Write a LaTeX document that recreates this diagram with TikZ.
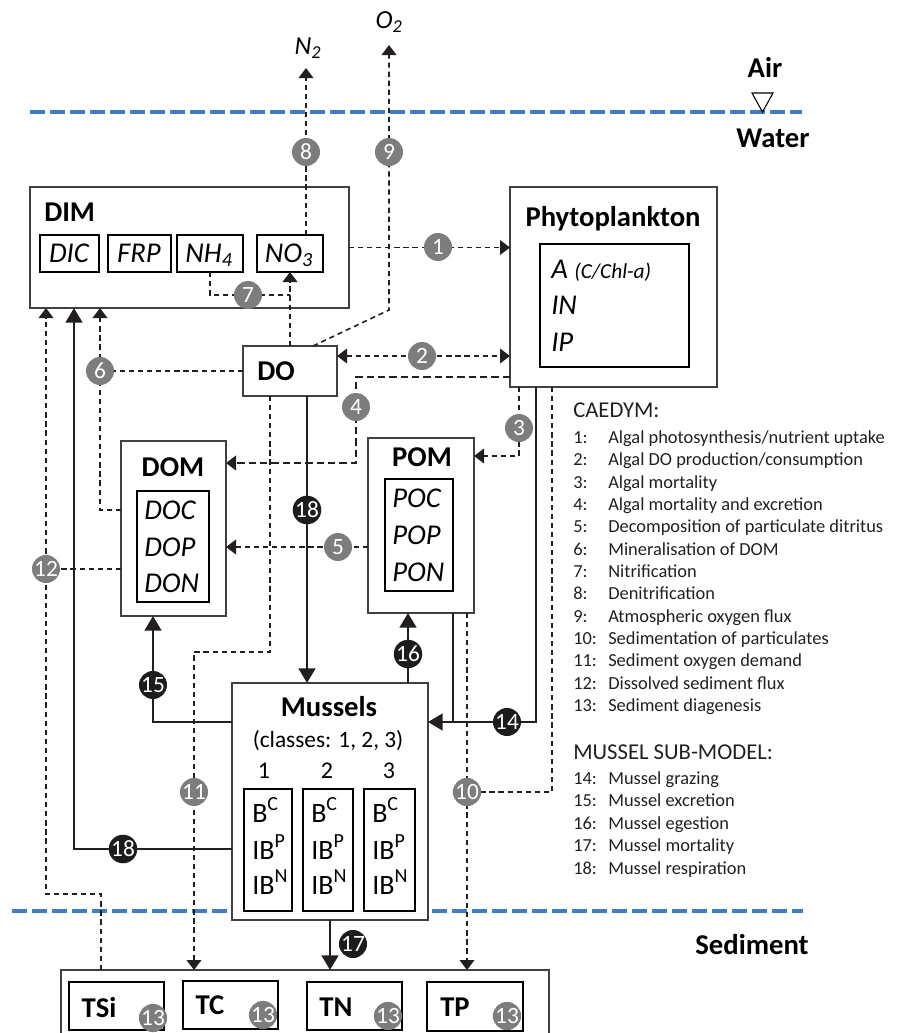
\documentclass[tikz,border=0pt]{standalone}
\usepackage{fontspec}
\setmainfont{Carlito}
\usetikzlibrary{arrows.meta}
\newdimen\pxu \pxu=0.75pt
\definecolor{wline}{RGB}{62,124,196}
\definecolor{gcirc}{RGB}{125,125,125}
\definecolor{bcirc}{RGB}{28,28,28}
\definecolor{lcol}{RGB}{35,31,32}
\definecolor{bcol}{RGB}{64,64,64}
\newcommand\fszLab{\fontsize{21.5}{24}\selectfont}
\newcommand\fszIt{\fontsize{21.5}{24}\selectfont\itshape}
\newcommand\fszSm{\fontsize{16}{18}\selectfont\itshape}
\newcommand\fszLeg{\fontsize{13.8}{16}\selectfont}
\newcommand\fszHead{\fontsize{17}{20}\selectfont}
\newcommand\fszNum{\fontsize{17.5}{17.5}\selectfont}
\newcommand\fszCls{\fontsize{17.5}{20}\selectfont}
\newcommand\fszB{\fontsize{21}{24}\selectfont}
\newcommand\supx[1]{\raisebox{0.42em}{\fontsize{15}{15}\selectfont #1}}
\newcommand\mkbox[6]{\node[#1, anchor=north west, minimum width={(#5-#3)*\pxu}, minimum height={(#6-#4)*\pxu}] (#2) at (#3,#4) {};}
\tikzset{
  box/.style={draw=bcol, line width=1.1pt, fill=white, inner sep=0pt, outer sep=0pt},
  ibox/.style={draw=black, line width=1.1pt, inner sep=0pt, outer sep=0pt},
  gc/.style={circle, fill=gcirc, text=white, minimum size=28\pxu, inner sep=0pt, font=\fszNum},
  bc/.style={gc, fill=bcirc},
  dl/.style={line width=1.2pt, dash pattern=on 3.9pt off 2.9pt, lcol},
  dlong/.style={line width=1.2pt, dash pattern=on 5.5pt off 3pt, lcol},
  sl/.style={line width=2pt, lcol},
  da/.style={-{Triangle[length=7.5pt,width=11pt]}},
  dda/.style={{Triangle[length=7.5pt,width=11pt]}-{Triangle[length=7.5pt,width=11pt]}},
  sa/.style={-{Triangle[length=11pt,width=12.5pt]}},
  waterline/.style={wline, line width=3pt, dash pattern=on 10.9pt off 4.1pt},
  lab/.style={font=\fszLab\bfseries, inner sep=0pt, anchor=base},
  itx/.style={font=\fszIt, inner sep=0pt, anchor=base},
  leg/.style={font=\fszLeg, inner sep=0pt, anchor=base west, text=lcol},
  head/.style={font=\fszHead, inner sep=0pt, anchor=base west, text=lcol},
}
\begin{document}
\begin{tikzpicture}[x=0.75pt,y=-0.75pt]
\useasboundingbox (0,0) rectangle (900,1033);

% water / sediment interfaces
\draw[waterline] (30,112) -- (802,112);
\draw[waterline] (12,911) -- (803,911);
\draw[line width=0.8pt, fill=white] (752,93) -- (773,93) -- (762.5,112) -- cycle;
\node[lab] (air) at (765,77) {Air};
\node[lab] (water) at (773,147) {Water};
\node[lab] (sedlab) at (752,954) {Sediment};
\node[itx, font=\fontsize{19.5}{22}\selectfont\itshape] (n2) at (308,54) {N\textsubscript{2}};
\node[itx, font=\fontsize{19.5}{22}\selectfont\itshape] (o2) at (389,28) {O\textsubscript{2}};

% boxes
\mkbox{box}{dim}{30}{187}{349}{308}
\mkbox{ibox}{dic}{40}{235}{99}{272}
\mkbox{ibox}{frp}{108}{235}{171}{272}
\mkbox{ibox}{nh4}{177}{235}{243}{272}
\mkbox{ibox}{no3}{257}{235}{323}{272}
\mkbox{box}{phy}{510}{187}{717}{387}
\mkbox{ibox}{phyin}{540}{244}{689}{367}
\mkbox{box}{do}{243}{346}{337}{396}
\mkbox{box}{dom}{121}{441}{226}{616}
\mkbox{ibox}{domin}{137}{491}{209}{602}
\mkbox{box}{pom}{368}{438}{474}{613}
\mkbox{ibox}{pomin}{385}{479}{453}{591}
\mkbox{box}{mus}{232}{683}{428}{920}
\mkbox{ibox}{m1}{244}{789}{292}{911}
\mkbox{ibox}{m2}{303}{789}{353}{911}
\mkbox{ibox}{m3}{364}{789}{415}{911}
\mkbox{box}{sed}{61}{970}{549}{1045}
\mkbox{ibox}{tsi}{69}{982}{164}{1030}
\mkbox{ibox}{tc}{183}{981}{278}{1029}
\mkbox{ibox}{tn}{307}{982}{402}{1030}
\mkbox{ibox}{tp}{427}{982}{523}{1031}

% box texts
\node[lab, anchor=base west] (dimt) at (44,221) {DIM};
\node[itx] (dict) at (69,262) {DIC};
\node[itx] (frpt) at (139,262) {FRP};
\node[itx] (nh4t) at (209,262) {NH\textsubscript{4}};
\node[itx] (no3t) at (289,262) {NO\textsubscript{3}};
\node[lab] (phyt) at (613,226) {Phytoplankton};
\node[itx, anchor=base west] (pa) at (551,278) {A {\fszSm(C/Chl-a)}};
\node[itx, anchor=base west] (pin) at (551,314) {IN};
\node[itx, anchor=base west] (pip) at (551,351) {IP};
\node[lab] (dot) at (276,380) {DO};
\node[lab] (domt) at (173,476) {DOM};
\node[itx, anchor=base west] (doc) at (144,519) {DOC};
\node[itx, anchor=base west] (dop) at (144,556) {DOP};
\node[itx, anchor=base west] (don) at (144,592) {DON};
\node[lab] (pomt) at (422,466) {POM};
\node[itx, anchor=base west] (poc) at (392,507) {POC};
\node[itx, anchor=base west] (pop) at (392,544) {POP};
\node[itx, anchor=base west] (pon) at (392,581) {PON};
\node[lab] (must) at (329,716) {Mussels};
\node[font=\fszCls, inner sep=0pt, anchor=base] (cls) at (328,747) {(classes: 1, 2, 3)};
\node[font=\fontsize{18}{20}\selectfont, inner sep=0pt, anchor=base] (k1) at (264,778) {1};
\node[font=\fontsize{18}{20}\selectfont, inner sep=0pt, anchor=base] (k2) at (327,778) {2};
\node[font=\fontsize{18}{20}\selectfont, inner sep=0pt, anchor=base] (k3) at (389,778) {3};
\foreach \xx/\nm in {252/a,311/b,372/c}{
  \node[font=\fszB, inner sep=0pt, anchor=base west] (bc\nm) at (\xx,822) {B\supx{C}};
  \node[font=\fszB, inner sep=0pt, anchor=base west] (ibp\nm) at (\xx,859) {IB\supx{P}};
  \node[font=\fszB, inner sep=0pt, anchor=base west] (ibn\nm) at (\xx,894) {IB\supx{N}};
}
\node[lab] (tsit) at (99,1017) {TSi};
\node[lab] (tct) at (210,1014) {TC};
\node[lab] (tnt) at (336,1016) {TN};
\node[lab] (tpt) at (455,1016) {TP};

% helper coordinates
\coordinate (k3c) at (519,456);
\coordinate (k4a) at (356,377);
\coordinate (k4b) at (356,463);
\coordinate (k6) at (100,510);
\coordinate (k7a) at (210,295);
\coordinate (k7b) at (290,295);
\coordinate (k8) at (306,68);
\coordinate (k9top) at (389,45);
\coordinate (k9c) at (389,310);
\coordinate (k9d) at (313,346);
\coordinate (k10) at (552,792);
\coordinate (k11a) at (270,652);
\coordinate (k11b) at (194,652);
\coordinate (k12a) at (101,894);
\coordinate (k12b) at (46,894);
\coordinate (k14a) at (536,722);
\coordinate (k14b) at (453,722);
\coordinate (k15) at (153,722);
\coordinate (k18) at (74,849);

% circle positions
\path (438,247) coordinate (p1) (422,356) coordinate (p2) (519,428) coordinate (p3)
      (356,407) coordinate (p4) (338,547) coordinate (p5) (100,371) coordinate (p6)
      (248,295) coordinate (p7) (306,152) coordinate (p8) (389,152) coordinate (p9)
      (467,792) coordinate (p10) (194,792) coordinate (p11) (46,569) coordinate (p12)
      (507,722) coordinate (p14) (153,685) coordinate (p15) (408,654) coordinate (p16)
      (353,944) coordinate (p17) (307,510) coordinate (p18a) (123,849) coordinate (p18b);

% dashed connectors
\draw[dl,da] (dim.east) -- (phy.west |- dim.east);
\draw[dl,dda] (do.east |- p2) -- (phy.west |- p2);
\draw[dl,da] (phy.south -| k3c) -- (k3c) -- (pom.east |- k3c);
\draw[dlong,da] (phy.west |- k4a) -- (k4a) -- (k4b) -- (dom.east |- k4b);
\draw[dl,da] (pom.west |- p5) -- (dom.east |- p5);
\draw[dl] (do.west) -- (p6);
\draw[dl,da] (dom.west |- k6) -- (k6) -- (dim.south -| k6);
\draw[dl] (nh4.south -| k7a) -- (k7a) -- (k7b);
\draw[dl,da] (do.north -| k7b) -- (no3.south -| k7b);
\draw[dl,da] (no3.north -| k8) -- (k8);
\draw[dl,da] (do.north -| k9d) -- (k9c) -- (k9top);
\draw[dl] (phy.south -| k10) -- (k10) -- (p10);
\draw[dl,da] (pom.south -| p10) -- (sed.north -| p10);
\draw[dl,da] (do.south -| k11a) -- (k11a) -- (k11b) -- (sed.north -| k11b);
\draw[dl,da] (sed.north -| k12a) -- (k12a) -- (k12b) -- (dim.south -| k12b);
\draw[dl] (dom.west |- p12) -- (p12);

% solid connectors
\draw[sl,sa] (phy.south -| k14a) -- (k14a) -- (mus.east |- k14a);
\draw[sl] (pom.south -| k14b) -- (k14b);
\draw[sl,sa] (mus.west |- k15) -- (k15) -- (dom.south -| k15);
\draw[sl,sa] (mus.north -| p16) -- (pom.south -| p16);
\draw[sl,sa] (mus.south) -- (sed.north -| mus.south);
\draw[sl,sa] (do.south -| p18a) -- (mus.north -| p18a);
\draw[sl,sa] (mus.west |- k18) -- (k18) -- (dim.south -| k18);

% process circles
\node[gc] (c1) at (p1) {1};
\node[gc] (c2) at (p2) {2};
\node[gc] (c3) at (p3) {3};
\node[gc] (c4) at (p4) {4};
\node[gc] (c5) at (p5) {5};
\node[gc] (c6) at (p6) {6};
\node[gc] (c7) at (p7) {7};
\node[gc] (c8) at (p8) {8};
\node[gc] (c9) at (p9) {9};
\node[gc] (c10) at (p10) {10};
\node[gc] (c11) at (p11) {11};
\node[gc] (c12) at (p12) {12};
\node[gc] (c13a) at (153,1018) {13};
\node[gc] (c13b) at (263,1015) {13};
\node[gc] (c13c) at (388,1016) {13};
\node[gc] (c13d) at (507,1016) {13};
\node[bc] (c14) at (p14) {14};
\node[bc] (c15) at (p15) {15};
\node[bc] (c16) at (p16) {16};
\node[bc] (c17) at (p17) {17};
\node[bc] (c18a) at (p18a) {18};
\node[bc] (c18b) at (p18b) {18};

% legend
\node[head] (hcaedym) at (573,417) {CAEDYM:};
\node[leg] (n1) at (573,443) {1:};   \node[leg] (t1) at (608,443) {Algal photosynthesis/nutrient uptake};
\node[leg] (n2l) at (573,465) {2:};  \node[leg] (t2) at (608,465) {Algal DO production/consumption};
\node[leg] (n3) at (573,488) {3:};   \node[leg] (t3) at (608,488) {Algal mortality};
\node[leg] (n4) at (573,510) {4:};   \node[leg] (t4) at (608,510) {Algal mortality and excretion};
\node[leg] (n5) at (573,532) {5:};   \node[leg] (t5) at (608,532) {Decomposition of particulate ditritus};
\node[leg] (n6) at (573,555) {6:};   \node[leg] (t6) at (608,555) {Mineralisation of DOM};
\node[leg] (n7) at (573,577) {7:};   \node[leg] (t7) at (608,577) {Nitrification};
\node[leg] (n8) at (573,599) {8:};   \node[leg] (t8) at (608,599) {Denitrification};
\node[leg] (n9) at (573,622) {9:};   \node[leg] (t9) at (608,622) {Atmospheric oxygen flux};
\node[leg] (n10) at (573,644) {10:}; \node[leg] (t10) at (608,644) {Sedimentation of particulates};
\node[leg] (n11) at (573,666) {11:}; \node[leg] (t11) at (608,666) {Sediment oxygen demand};
\node[leg] (n12) at (573,689) {12:}; \node[leg] (t12) at (608,689) {Dissolved sediment flux};
\node[leg] (n13) at (573,711) {13:}; \node[leg] (t13) at (608,711) {Sediment diagenesis};
\node[head] (hmussel) at (573,759) {MUSSEL SUB-MODEL:};
\node[leg] (n14) at (573,784) {14:}; \node[leg] (t14) at (608,784) {Mussel grazing};
\node[leg] (n15) at (573,806) {15:}; \node[leg] (t15) at (608,806) {Mussel excretion};
\node[leg] (n16) at (573,829) {16:}; \node[leg] (t16) at (608,829) {Mussel egestion};
\node[leg] (n17) at (573,851) {17:}; \node[leg] (t17) at (608,851) {Mussel mortality};
\node[leg] (n18) at (573,874) {18:}; \node[leg] (t18) at (608,874) {Mussel respiration};
\end{tikzpicture}
\end{document}
